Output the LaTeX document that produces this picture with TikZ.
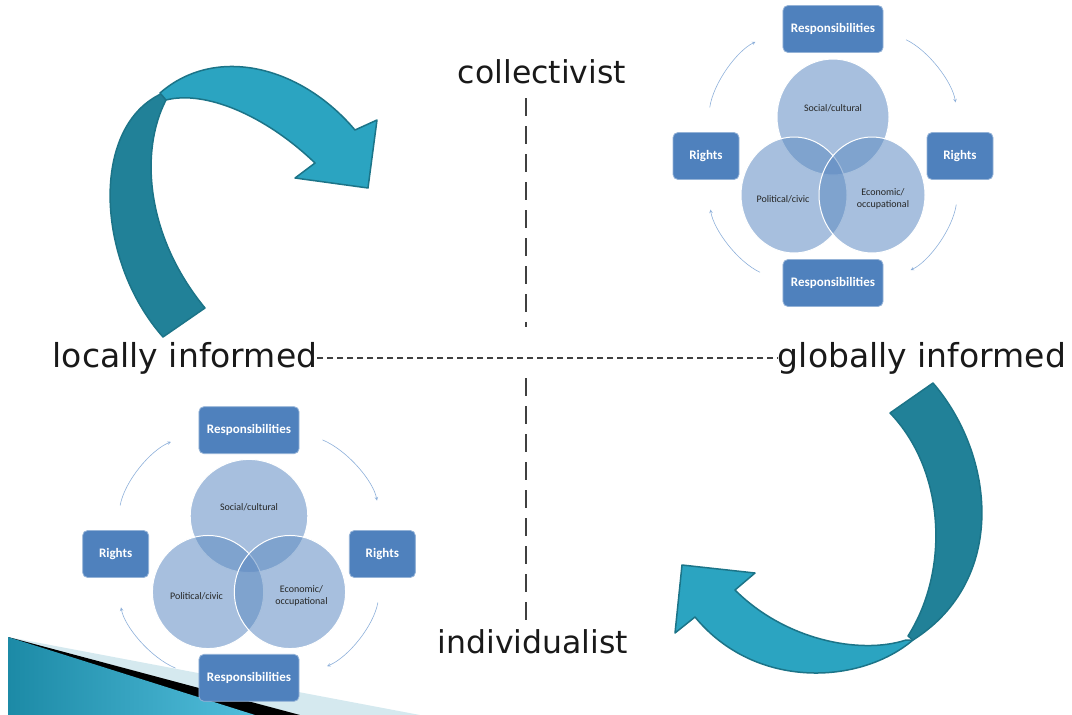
\documentclass[tikz,border=0pt]{standalone}
\usepackage{fontspec}
\setmainfont{DejaVu Sans}
\newfontfamily\calib{Carlito}

\definecolor{boxblue}{HTML}{4F81BD}
\definecolor{vennblue}{HTML}{5E8BC2}
\definecolor{cycblue}{HTML}{8EB0DA}
\definecolor{tealA}{HTML}{2BA4C1}
\definecolor{tealB}{HTML}{218198}
\definecolor{tealC}{HTML}{1C7488}
\definecolor{cornerA}{HTML}{1C8AA6}
\definecolor{cornerB}{HTML}{52BEDC}
\definecolor{cornerC}{HTML}{D5E9EF}

% one rights/responsibilities cycle round the three circles
\newcommand{\rrcycle}{%
  \draw[venn] (0,-39) ellipse [x radius=56, y radius=58];
  \draw[venn] (-39,39) ellipse [x radius=53, y radius=58];
  \draw[venn] (39,39) ellipse [x radius=53, y radius=58];
  \node [venntext] (soc) at (0,-48) {Social/cultural};
  \node [venntext] (pol) at (-50,43) {Political/civic};
  \node [venntext] (eco) at (50,43) {Economic/\\occupational};
  \node [rrbox] (rt) at (0,-127) {Responsibilities};
  \node [rrbox] (rb) at (0,127) {Responsibilities};
  \node [rrbox] (rl) at (-127,0) {Rights};
  \node [rrbox] (rr) at (127,0) {Rights};
  \draw[cyc] (rl.north) to [bend left=28] (rt.west);
  \draw[cyc] (rt.east) to [bend left=28] (rr.north);
  \draw[cyc] (rr.south) to [bend left=28] (rb.east);
  \draw[cyc] (rb.west) to [bend left=28] (rl.south);
}

\begin{document}
\begin{tikzpicture}[x=1pt,y=-1pt]
        \tikzstyle{axislabel}=[inner sep=0pt,text=black!90]
        \tikzstyle{hdash}=[draw=black!75,line width=1.4pt,dash pattern=on 6pt off 4pt]
        \tikzstyle{vdash}=[draw=black!75,line width=1.4pt,dash pattern=on 18pt off 10pt]
        \tikzstyle{venn}=[fill=vennblue,fill opacity=0.55,draw=white,line width=1pt]
        \tikzstyle{venntext}=[font=\calib\fontsize{10}{12}\selectfont,align=center,text=black!85]
        \tikzstyle{rrbox}=[fill=boxblue,draw=boxblue!60!white,line width=0.8pt,rounded corners=5pt,
                           text=white,font=\calib\bfseries\fontsize{13}{15}\selectfont,
                           minimum width=66pt,minimum height=47pt,inner xsep=8pt]
        \tikzstyle{cyc}=[draw=cycblue,line width=0.6pt,->,>=stealth,shorten <=25pt,shorten >=30pt]
        \tikzstyle{ribbon}=[draw=tealC,line width=1.5pt,line join=round]
        \useasboundingbox (0,0) rectangle (1072,715);

        % slide corner
        \fill[cornerC] (8,637) -- (420,715) -- (8,715) -- cycle;
        \fill[black] (8,637) -- (300,715) -- (8,715) -- cycle;
        \shade[left color=cornerA,right color=cornerB] (8,637) -- (255,715) -- (8,715) -- cycle;

        % axes
        \node [axislabel,font=\fontsize{31.5}{36}\selectfont] (col) at (542,72) {collectivist};
        \node [axislabel,font=\fontsize{31.5}{36}\selectfont] (ind) at (533,642) {individualist};
        \node [axislabel,font=\fontsize{33}{38}\selectfont] (loc) at (185,358) {locally informed};
        \node [axislabel,font=\fontsize{33}{38}\selectfont] (glo) at (922,358) {globally informed};
        \coordinate (up) at (526,327);
        \coordinate (dn) at (526,378);
        \draw[hdash] (loc.east) -- (glo.west);
        \draw[vdash,shorten <=14pt] (col.south -| up) -- (up);
        \draw[vdash,shorten >=10pt] (dn) -- (ind.north -| dn);

        % the two cycles
        \begin{scope}[shift={(833,156)},name prefix=tr-]
          \rrcycle
        \end{scope}
        \begin{scope}[shift={(249,554)},xscale=1.05,yscale=0.975,name prefix=bl-]
          \rrcycle
        \end{scope}

        % curved arrow, top left
        \filldraw[ribbon,fill=tealB] (163,337) .. controls (95,260) and (90,125) .. (163,93)
            -- (166,100) .. controls (140,150) and (145,235) .. (205,308) -- cycle;
        \filldraw[ribbon,fill=tealA] (160,93) .. controls (215,45) and (300,65) .. (355,130)
            -- (377,120) -- (368,188) -- (295,178) -- (315,163)
            .. controls (265,115) and (205,90) .. (166,100) -- cycle;

        % curved arrow, bottom right
        \filldraw[ribbon,fill=tealB] (933,383) .. controls (995,455) and (1008,580) .. (913,640)
            -- (908,636) .. controls (950,570) and (945,470) .. (890,413) -- cycle;
        \filldraw[ribbon,fill=tealA] (913,640) .. controls (860,685) and (755,690) .. (695,617)
            -- (675,633) -- (682,565) -- (755,573) -- (735,590)
            .. controls (785,640) and (860,655) .. (906,640) -- cycle;
\end{tikzpicture}
\end{document}
